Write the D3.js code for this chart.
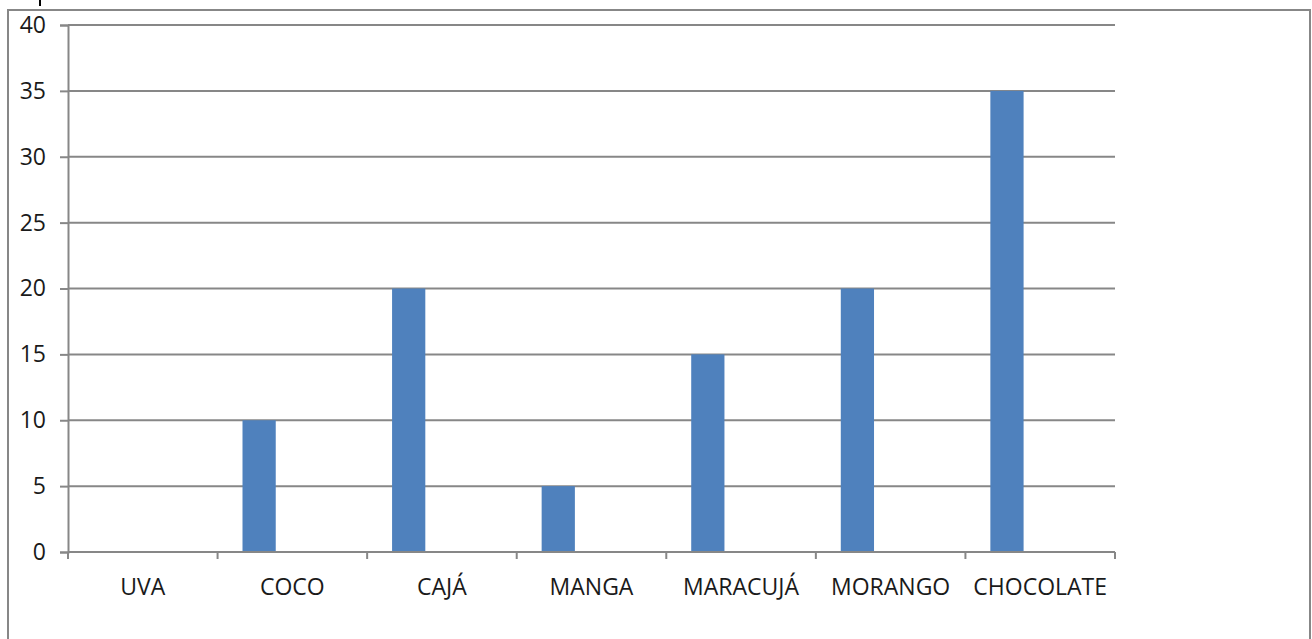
<!DOCTYPE html>
<html>
<head>
<meta charset="utf-8">
<script src="https://cdn.jsdelivr.net/npm/d3@7"></script>
<style>
  body { margin: 0; background: #fff; }
  svg { display: block; }
</style>
</head>
<body>
<svg id="chart" width="1312" height="639"></svg>
<script>
// data
var categories = ["UVA", "COCO", "CAJÁ", "MANGA", "MARACUJÁ", "MORANGO", "CHOCOLATE"];
var series = ["Série 1", "Série 2", "Série 3"];
var values1 = [0, 10, 20, 5, 15, 20, 35];
var yTicks = [0, 5, 10, 15, 20, 25, 30, 35, 40];

var svg = d3.select("#chart");
var grey = "#878787";
var font = "'Open Sans', 'Liberation Sans', sans-serif";

// outer frame of the chart
svg.append("rect")
   .attr("x", 8).attr("y", 10)
   .attr("width", 1302).attr("height", 640)
   .attr("fill", "none")
   .attr("stroke", grey)
   .attr("stroke-width", 2);
// bit of cut text above the frame
svg.append("line")
   .attr("x1", 40).attr("x2", 40).attr("y1", 0).attr("y2", 6)
   .attr("stroke", "#000").attr("stroke-width", 2);

var xScale = d3.scaleBand().domain(categories).range([68, 1115]);
var x1 = d3.scaleBand().domain(series).range([0, xScale.bandwidth()]).paddingOuter(0.75);
var yScale = d3.scaleLinear().domain([0, 40]).range([552, 25]);

// gridlines
svg.append("g")
   .selectAll("line")
   .data(yTicks.slice(1))
   .join("line")
   .attr("x1", 68).attr("x2", 1115)
   .attr("y1", function(d){ return yScale(d); })
   .attr("y2", function(d){ return yScale(d); })
   .attr("stroke", grey)
   .attr("stroke-width", 2);

// bars, only the first series has values
svg.append("g")
   .selectAll("rect")
   .data(values1)
   .join("rect")
   .attr("x", function(d, i){ return xScale(categories[i]) + x1(series[0]); })
   .attr("width", x1.bandwidth())
   .attr("y", function(d){ return yScale(d); })
   .attr("height", function(d){ return yScale(0) - yScale(d); })
   .attr("fill", "#4F81BD");

// y axis
var yAxis = d3.axisLeft(yScale).tickValues(yTicks).tickSize(8).tickPadding(14);
var gy = svg.append("g")
   .attr("transform", "translate(68,0)")
   .call(yAxis);
gy.select(".domain").attr("stroke", grey).attr("stroke-width", 2);
gy.selectAll(".tick line").attr("stroke", grey).attr("stroke-width", 2);
gy.selectAll(".tick text")
   .attr("font-family", font).attr("font-size", 23).attr("fill", "#1a1a1a");

// x axis, ticks sit between the categories
var gx = svg.append("g")
   .attr("transform", "translate(0,552)");
gx.append("line")
   .attr("x1", 68).attr("x2", 1115)
   .attr("stroke", grey).attr("stroke-width", 2);
var edges = categories.map(function(c){ return xScale(c); }).concat([xScale.range()[1]]);
gx.selectAll("line.tk")
   .data(edges)
   .join("line")
   .attr("class", "tk")
   .attr("x1", function(d){ return d; }).attr("x2", function(d){ return d; })
   .attr("y1", 0).attr("y2", 7)
   .attr("stroke", grey).attr("stroke-width", 2);
gx.selectAll("text")
   .data(categories)
   .join("text")
   .attr("x", function(d){ return xScale(d) + xScale.bandwidth() / 2; })
   .attr("y", 43)
   .attr("text-anchor", "middle")
   .attr("font-family", font).attr("font-size", 23).attr("fill", "#1a1a1a")
   .text(function(d){ return d; });
</script>
</body>
</html>
